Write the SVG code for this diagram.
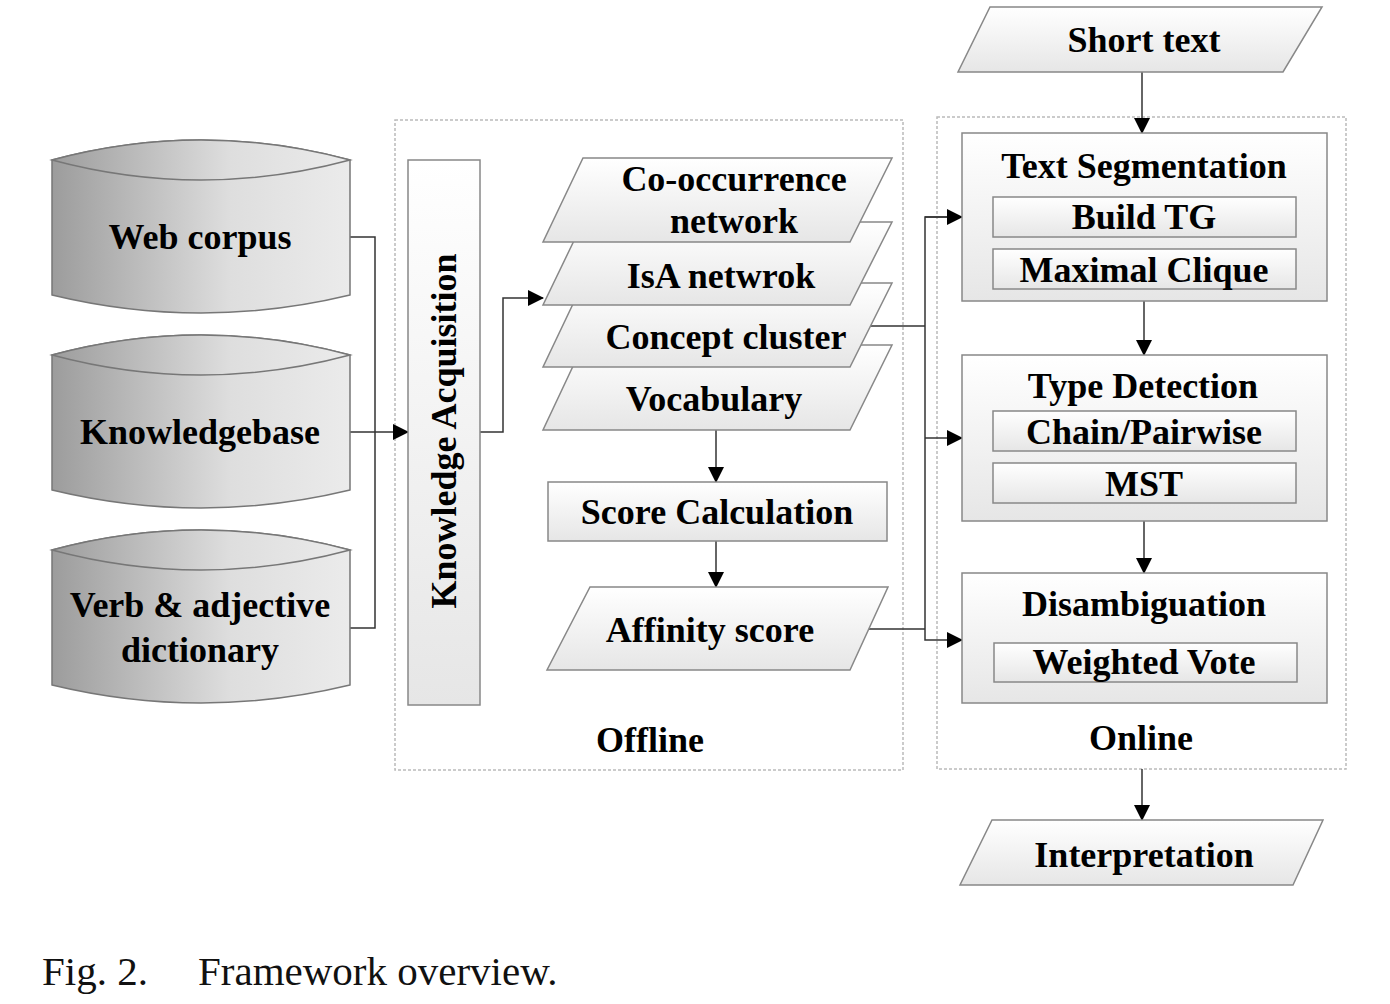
<svg xmlns="http://www.w3.org/2000/svg" width="1390" height="1004" viewBox="0 0 1390 1004">
<defs>
<linearGradient id="cyl" x1="0" y1="0" x2="1" y2="0">
<stop offset="0" stop-color="#9c9c9c"/>
<stop offset="0.6" stop-color="#dedede"/>
<stop offset="1" stop-color="#ebebeb"/>
</linearGradient>
<linearGradient id="box" x1="0" y1="0" x2="0" y2="1">
<stop offset="0" stop-color="#ffffff"/>
<stop offset="1" stop-color="#e6e6e6"/>
</linearGradient>
<marker id="ah" markerWidth="16" markerHeight="16" refX="15" refY="8" orient="auto" markerUnits="userSpaceOnUse">
<path d="M0,0 L16,8 L0,16 Z" fill="#000"/>
</marker>
</defs>
<style>
.t{font-family:"Liberation Serif","Times New Roman",serif;font-weight:bold;font-size:36px;fill:#000;text-anchor:middle}
.cyl{fill:url(#cyl);stroke:#777;stroke-width:1.5}
.b{fill:url(#box);stroke:#888;stroke-width:1.5}
.dash{fill:none;stroke:#bbb;stroke-width:1.5;stroke-dasharray:3 2}
.c{fill:none;stroke:#333;stroke-width:1.5}
.cap{font-family:"Liberation Serif","Times New Roman",serif;font-size:41px;fill:#111}
</style>
<rect width="1390" height="1004" fill="#fff"/>

<g id="offline-group">
<rect class="dash" x="395" y="120" width="508" height="650"/>
<text class="t" x="650" y="752">Offline</text>
</g>
<g id="online-group">
<rect class="dash" x="937" y="117" width="409" height="652"/>
<text class="t" x="1141" y="750">Online</text>
</g>

<g id="connectors">
<polyline class="c" points="350,237 375,237 375,628 350,628"/>
<line class="c" x1="350" y1="432" x2="408" y2="432" marker-end="url(#ah)"/>
<polyline class="c" points="480,432 503,432 503,298 543,298" marker-end="url(#ah)"/>
<line class="c" x1="716" y1="430" x2="716" y2="482" marker-end="url(#ah)"/>
<line class="c" x1="716" y1="541" x2="716" y2="587" marker-end="url(#ah)"/>
<polyline class="c" points="870,326 925,326"/>
<polyline class="c" points="868,629 925,629"/>
<polyline class="c" points="962,217 925,217 925,640 962,640" marker-end="url(#ah)"/>
<line class="c" x1="925" y1="217" x2="962" y2="217" marker-end="url(#ah)"/>
<line class="c" x1="925" y1="438" x2="962" y2="438" marker-end="url(#ah)"/>
<line class="c" x1="1142" y1="72" x2="1142" y2="133" marker-end="url(#ah)"/>
<line class="c" x1="1144" y1="301" x2="1144" y2="355" marker-end="url(#ah)"/>
<line class="c" x1="1144" y1="521" x2="1144" y2="573" marker-end="url(#ah)"/>
<line class="c" x1="1142" y1="769" x2="1142" y2="820" marker-end="url(#ah)"/>
</g>

<g id="web-corpus">
<path class="cyl" d="M52,160 Q201,120 350,160 L350,295 Q201,331 52,295 Z"/>
<path class="cyl" d="M52,160 Q201,120 350,160 Q201,200 52,160 Z"/>
<text class="t" x="200" y="249">Web corpus</text>
</g>
<g id="knowledgebase">
<path class="cyl" d="M52,355 Q201,315 350,355 L350,490 Q201,526 52,490 Z"/>
<path class="cyl" d="M52,355 Q201,315 350,355 Q201,395 52,355 Z"/>
<text class="t" x="200" y="444">Knowledgebase</text>
</g>
<g id="verb-dictionary">
<path class="cyl" d="M52,550 Q201,510 350,550 L350,685 Q201,721 52,685 Z"/>
<path class="cyl" d="M52,550 Q201,510 350,550 Q201,590 52,550 Z"/>
<text class="t" x="200" y="617">Verb &amp; adjective</text>
<text class="t" x="200" y="662">dictionary</text>
</g>

<g id="knowledge-acquisition">
<rect class="b" x="408" y="160" width="72" height="545"/>
<text class="t" style="font-size:36px" transform="translate(456,431) rotate(-90)" x="0" y="0">Knowledge Acquisition</text>
</g>

<g id="vocabulary">
<polygon class="b" points="583,345 892,345 850,430 543,430"/>
<text class="t" x="714" y="411">Vocabulary</text>
</g>
<g id="concept-cluster">
<polygon class="b" points="583,283 892,283 850,367 543,367"/>
<text class="t" x="726" y="349">Concept cluster</text>
</g>
<g id="isa-network">
<polygon class="b" points="583,222 892,222 850,305 543,305"/>
<text class="t" x="721" y="288">IsA netwrok</text>
</g>
<g id="cooccurrence-network">
<polygon class="b" points="583,158 892,158 850,242 543,242"/>
<text class="t" x="734" y="191">Co-occurrence</text>
<text class="t" x="734" y="233">network</text>
</g>

<g id="score-calculation">
<rect class="b" x="548" y="482" width="339" height="59"/>
<text class="t" x="717" y="524">Score Calculation</text>
</g>
<g id="affinity-score">
<polygon class="b" points="590,587 888,587 850,670 547,670"/>
<text class="t" x="710" y="642">Affinity score</text>
</g>

<g id="short-text">
<polygon class="b" points="990,7 1322,7 1283,72 958,72"/>
<text class="t" x="1144" y="52">Short text</text>
</g>

<g id="text-segmentation">
<rect class="b" x="962" y="133" width="365" height="168"/>
<text class="t" x="1144" y="178">Text Segmentation</text>
<rect class="b" x="993" y="197" width="303" height="40"/>
<text class="t" x="1144" y="229">Build TG</text>
<rect class="b" x="993" y="249" width="303" height="40"/>
<text class="t" x="1144" y="282">Maximal Clique</text>
</g>

<g id="type-detection">
<rect class="b" x="962" y="355" width="365" height="166"/>
<text class="t" x="1143" y="398">Type Detection</text>
<rect class="b" x="993" y="411" width="303" height="40"/>
<text class="t" x="1144" y="444">Chain/Pairwise</text>
<rect class="b" x="993" y="463" width="303" height="40"/>
<text class="t" x="1144" y="496">MST</text>
</g>

<g id="disambiguation">
<rect class="b" x="962" y="573" width="365" height="130"/>
<text class="t" x="1144" y="616">Disambiguation</text>
<rect class="b" x="994" y="643" width="303" height="39"/>
<text class="t" x="1144" y="674">Weighted Vote</text>
</g>

<g id="interpretation">
<polygon class="b" points="992,820 1323,820 1293,885 960,885"/>
<text class="t" x="1144" y="867">Interpretation</text>
</g>

<text class="cap" x="42" y="985">Fig. 2.</text>
<text class="cap" x="198" y="985">Framework overview.</text>
</svg>
